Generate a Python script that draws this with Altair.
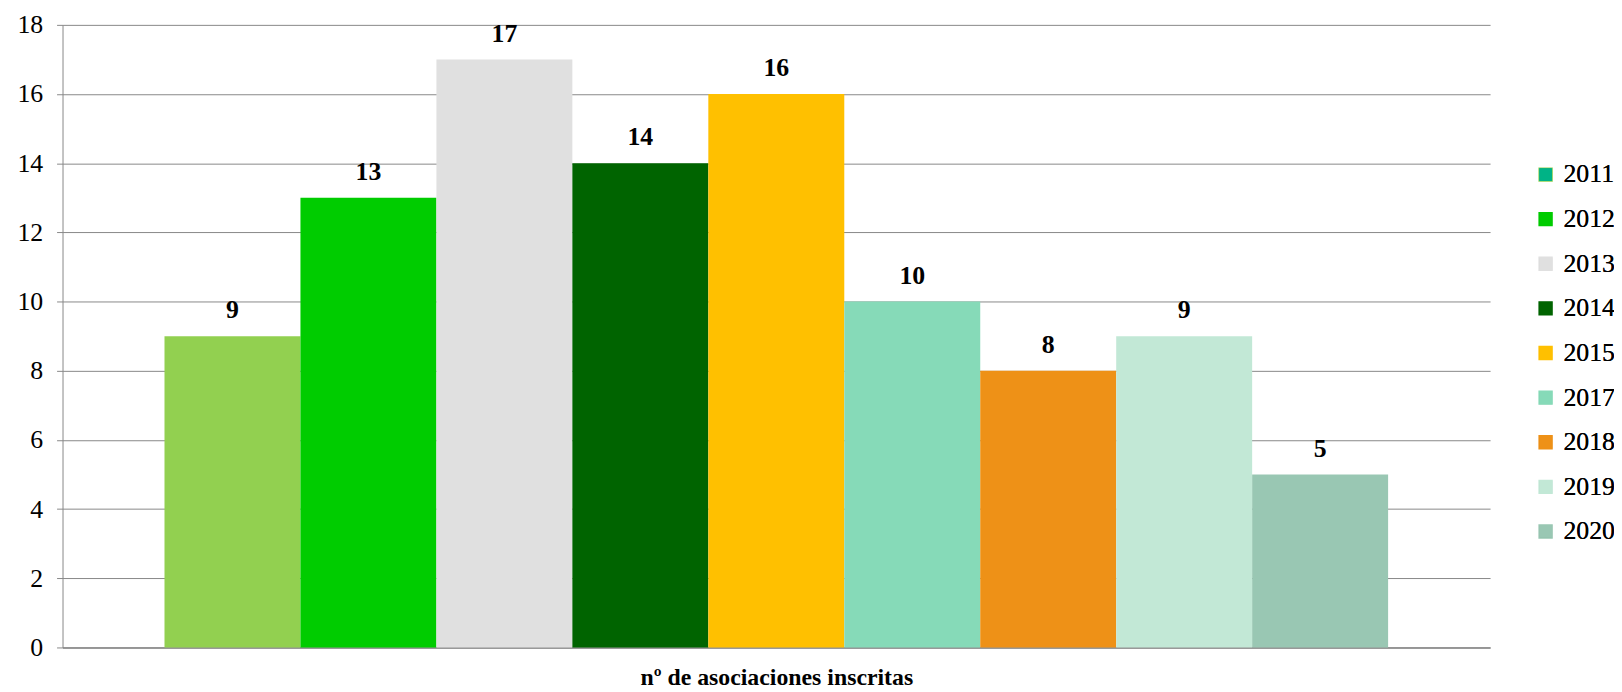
import altair as alt
import pandas as pd

years = ["2011", "2012", "2013", "2014", "2015", "2017", "2018", "2019", "2020"]
values = [9, 13, 17, 14, 16, 10, 8, 9, 5]
bar_colors = ["#92D050", "#00CC00", "#E0E0E0", "#006400", "#FFC000",
              "#86DAB8", "#EE9117", "#C2E8D6", "#99C7B3"]
legend_fill = ["#00B386", "#00CC00", "#E0E0E0", "#006400", "#FFC000",
               "#86DAB8", "#EE9117", "#C2E8D6", "#99C7B3"]
legend_stroke = ["#92D050", "#00CC00", "#E0E0E0", "#006400", "#FFC000",
                 "#86DAB8", "#EE9117", "#C2E8D6", "#99C7B3"]
x_title = "nº de asociaciones inscritas"
y_ticks = [0, 2, 4, 6, 8, 10, 12, 14, 16, 18]

df = pd.DataFrame({"year": years, "value": values})

FONT = "Liberation Serif"

x_enc = alt.X(
    "year:N", sort=years,
    scale=alt.Scale(paddingInner=0, paddingOuter=0.75),
    axis=alt.Axis(labels=False, ticks=False, title=x_title, titleFont=FONT,
                  titleFontSize=24, titleFontWeight="bold", titleColor="black",
                  titlePadding=18, domainColor="#888888", domainWidth=1.5),
)
y_axis = alt.Axis(values=y_ticks, title=None, labelFont=FONT, labelFontSize=26,
                  labelColor="black", tickSize=6, tickColor="#888888",
                  labelPadding=14, domainColor="#888888", gridColor="#888888",
                  gridWidth=1, grid=True)
y_scale = alt.Scale(domain=[0, 18], nice=False)

leg = alt.Legend(title=None, orient="none", legendX=1483, legendY=138,
                 labelFont=FONT, labelFontSize=26, labelColor="black",
                 symbolType="square", symbolSize=169, symbolOpacity=1,
                 symbolStrokeWidth=1.5, rowPadding=19,
                 labelOffset=5, padding=0)

legend_layer = alt.Chart(df).transform_calculate(half="datum.value / 2").mark_square(
    size=1, filled=True, opacity=1
).encode(
    x=x_enc,
    y=alt.Y("half:Q", scale=y_scale, axis=y_axis),
    fill=alt.Fill("year:N", sort=years,
                  scale=alt.Scale(domain=years, range=legend_fill), legend=leg),
    stroke=alt.Stroke("year:N", sort=years,
                      scale=alt.Scale(domain=years, range=legend_stroke), legend=leg),
)

bars = alt.Chart(df).mark_bar().encode(
    x=x_enc,
    y=alt.Y("value:Q", scale=y_scale, axis=y_axis),
    fill=alt.Fill("year:N", sort=years,
                  scale=alt.Scale(domain=years, range=bar_colors), legend=None),
)

labels = alt.Chart(df).mark_text(
    font=FONT, fontSize=26, fontWeight="bold", color="black", dy=-26, baseline="middle"
).encode(
    x=x_enc,
    y=alt.Y("value:Q", scale=y_scale),
    text="value:Q",
)

chart = alt.layer(legend_layer, bars, labels).resolve_scale(
    fill="independent"
).properties(
    width=1440, height=628,
    autosize=alt.AutoSizeParams(type="none"),
    padding={"left": 55, "top": 14, "right": 125, "bottom": 50},
).configure_view(stroke=None)

chart.save("out.html", embed_options={"renderer": "svg", "actions": False})
